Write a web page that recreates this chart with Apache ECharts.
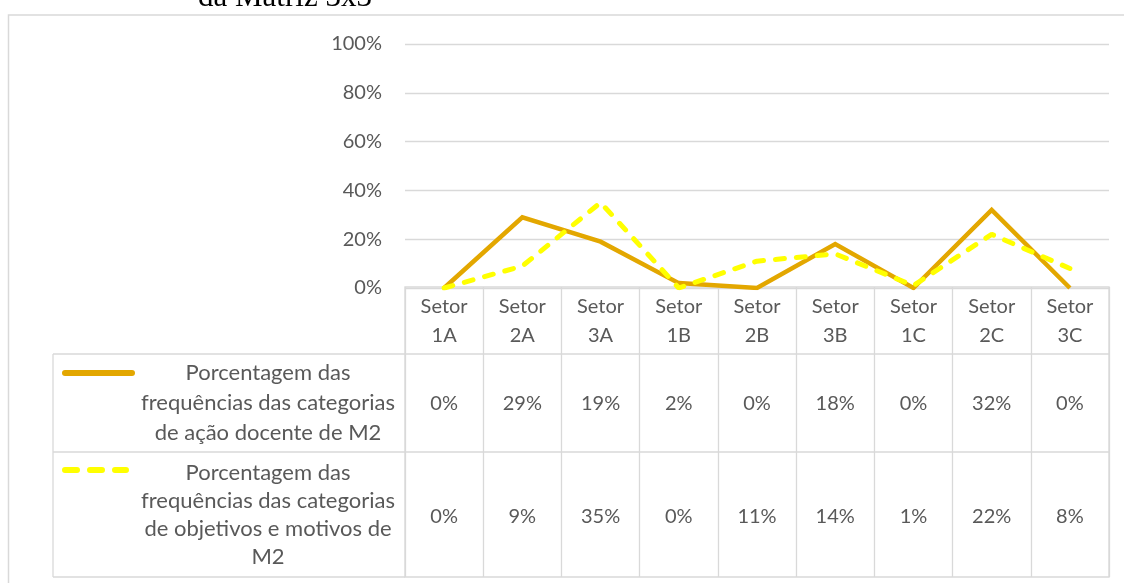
<!DOCTYPE html>
<html>
<head>
<meta charset="utf-8">
<script src="https://cdn.jsdelivr.net/npm/echarts@6/dist/echarts.min.js"></script>
<style>
html,body{margin:0;padding:0;background:#fff;}
#c{width:1124px;height:583px;}
</style>
</head>
<body>
<div id="c"></div>
<script>
var categories = ['Setor\n1A','Setor\n2A','Setor\n3A','Setor\n1B','Setor\n2B','Setor\n3B','Setor\n1C','Setor\n2C','Setor\n3C'];
var acaoDocente = [0, 29, 19, 2, 0, 18, 0, 32, 0];
var objetivosMotivos = [0, 9, 35, 0, 11, 14, 1, 22, 8];
var seriesNames = [
  'Porcentagem das\nfrequências das categorias\nde ação docente de M2',
  'Porcentagem das\nfrequências das categorias\nde objetivos e motivos de\nM2'
];
var yTicks = [0, 20, 40, 60, 80, 100];
var titleText = 'da Matriz 3x3';

var FONT = 'Lato';
var TXT = '#595959';
var GRID = '#D9D9D9';
var C1 = '#E3A700';
var C2 = '#FFFF00';

var chart = echarts.init(document.getElementById('c'), null, {renderer: 'canvas'});

function pct(v){ return v + '%'; }

var hiddenAxis = {axisLine:{show:false}, axisTick:{show:false}, splitLine:{show:false}};

var option = {
  backgroundColor: '#fff',
  animation: false,
  grid: [
    {left: 405, right: 15, top: 44, bottom: 295},
    {left: 405, right: 15, top: 287, bottom: 6, show: true, borderColor: GRID, borderWidth: 1.3}
  ],
  xAxis: [
    Object.assign({type:'category', gridIndex:0, data: categories, boundaryGap: true,
      axisLabel:{show:true, interval:0, fontFamily:FONT, fontSize:20, color:TXT, lineHeight:29, verticalAlign:'middle', margin:33}}, hiddenAxis),
    Object.assign({type:'category', gridIndex:0, data: categories, boundaryGap: true, position:'bottom',
      axisLabel:{show:true, interval:0, fontFamily:FONT, fontSize:20, color:TXT, verticalAlign:'middle', margin:116,
        formatter:function(v, i){ return pct(acaoDocente[i]); }}}, hiddenAxis),
    Object.assign({type:'category', gridIndex:0, data: categories, boundaryGap: true, position:'bottom',
      axisLabel:{show:true, interval:0, fontFamily:FONT, fontSize:20, color:TXT, verticalAlign:'middle', margin:229,
        formatter:function(v, i){ return pct(objetivosMotivos[i]); }}}, hiddenAxis),
    {type:'category', gridIndex:1, data: categories, boundaryGap: true,
      axisLine:{show:false}, axisTick:{show:false}, axisLabel:{show:false},
      splitLine:{show:true, interval:0, lineStyle:{color:GRID, width:1.3}}}
  ],
  yAxis: [
    {type:'value', gridIndex:0, min:0, max:100, interval:20,
      axisLine:{show:false}, axisTick:{show:false},
      axisLabel:{fontFamily:FONT, fontSize:20, color:TXT, margin:23, formatter:function(v){ return pct(v); }},
      splitLine:{show:true, lineStyle:{color:GRID, width:1.3}}},
    {type:'value', gridIndex:1, min:0, max:1, show:false, splitLine:{show:false}}
  ],
  series: [
    {name: seriesNames[0], type:'line', xAxisIndex:0, yAxisIndex:0, data: acaoDocente,
      symbol:'none', lineStyle:{color:C1, width:4.5, join:'miter'}, z:2},
    {name: seriesNames[1], type:'line', xAxisIndex:0, yAxisIndex:0, data: objetivosMotivos,
      symbol:'none', lineStyle:{color:C2, width:5, type:[9,12], cap:'round'}, z:3}
  ],
  graphic: [
    {type:'rect', shape:{x:8.5, y:15, width:1130, height:590}, style:{fill:null, stroke:GRID, lineWidth:1.5}, silent:true},
    {type:'text', left:198, top:-18, style:{text:titleText, font:'31px "Liberation Serif", "Times New Roman", serif', fill:'#000'}},
    {type:'line', shape:{x1:53, y1:354, x2:1109, y2:354}, style:{stroke:GRID, lineWidth:1.3}},
    {type:'line', shape:{x1:53, y1:452, x2:1109, y2:452}, style:{stroke:GRID, lineWidth:1.3}},
    {type:'line', shape:{x1:53, y1:577, x2:405, y2:577}, style:{stroke:GRID, lineWidth:1.3}},
    {type:'line', shape:{x1:53, y1:354, x2:53, y2:577}, style:{stroke:GRID, lineWidth:1.3}},
    {type:'line', shape:{x1:65, y1:373, x2:132, y2:373}, style:{stroke:C1, lineWidth:6, lineCap:'round'}},
    {type:'line', shape:{x1:65, y1:470, x2:126, y2:470}, style:{stroke:C2, lineWidth:6, lineCap:'round', lineDash:[12,13]}},
    {type:'text', x:268, y:403, style:{text:seriesNames[0], font:'22px Lato', fill:TXT, align:'center', verticalAlign:'middle', lineHeight:30}},
    {type:'text', x:268, y:515, style:{text:seriesNames[1], font:'22px Lato', fill:TXT, align:'center', verticalAlign:'middle', lineHeight:28}}
  ]
};
chart.setOption(option);
</script>
</body>
</html>
